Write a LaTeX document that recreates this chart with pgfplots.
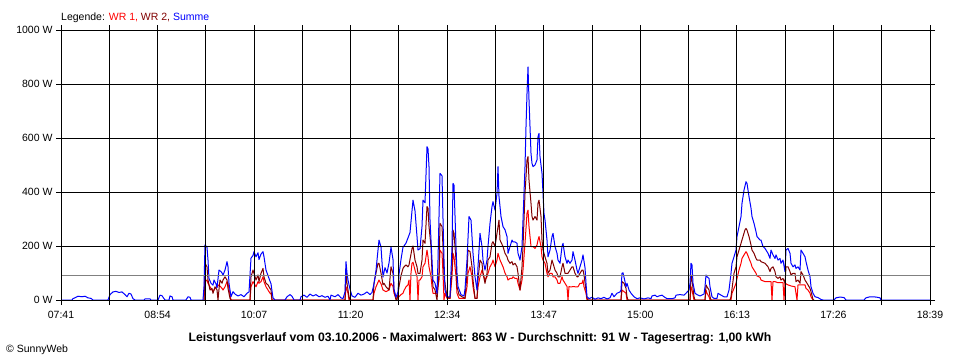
\documentclass[border=0pt]{standalone}
\usepackage{fontspec}
\setmainfont{Liberation Sans}
\usepackage{pgfplots}
\pgfplotsset{compat=1.18}
\definecolor{wrone}{RGB}{255,0,0}
\definecolor{wrtwo}{RGB}{128,0,0}
\definecolor{summe}{RGB}{0,0,255}
\definecolor{avgline}{RGB}{128,128,128}
\begin{document}
\begin{tikzpicture}[font=\fontsize{10.5}{12}\selectfont]
\useasboundingbox (0pt,0pt) rectangle (960pt,360pt);
\begin{axis}[
  at={(61pt,60pt)}, anchor=south west,
  scale only axis, width=869pt, height=270pt,
  xmin=61, xmax=930, ymin=0, ymax=1000,
  axis on top,
  axis line style={black, line width=1pt},
  grid=major, grid style={black, line width=1pt},
  tick style={black, line width=1pt},
  major tick length=5pt, tick align=outside,
  xtick={61,109.28,157.56,205.83,254.11,302.39,350.67,398.94,447.22,495.5,543.78,592.06,640.33,688.61,736.89,785.17,833.44,881.72,930},
  xticklabels={07:41,,08:54,,10:07,,11:20,,12:34,,13:47,,15:00,,16:13,,17:26,,18:39},
  ytick={0,200,400,600,800,1000},
  yticklabels={0 W,200 W,400 W,600 W,800 W,1000 W},
  tick label style={font=\fontsize{10.5}{12}\selectfont},
  xticklabel style={yshift=-2.5pt},
  every axis plot/.append style={line width=1pt, line join=round, mark=none},
]
% WR 1
\addplot[color=wrone] coordinates {
(204,0) (205,68) (207,74) (208,62) (210,49) (212,37) (213,31) (215,43) (217,49) (219,56) (222,43) (223,37) (225,49) (227,68) (228,62) (230,19) (231,0)
(250,0) (251,49) (253,68) (254,62) (256,49) (258,68) (259,62) (261,68) (263,86) (264,68) (266,49) (268,37) (270,25) (271,25) (272,0)
(345,0) (346,49) (347,37) (348,25) (349,0)
(373,0) (374,25) (376,49) (379,74) (381,60) (383,37) (386,31) (389,37) (391,62) (393,50) (394,25) (396,6) (399,12) (401,20) (403,25) (404,35) (406,49) (408,56) (409,74) (410,0) (411,100) (412,136) (413,140) (415,111) (417,86) (418,0) (419,74) (420,74) (422,86) (423,123) (425,136) (427,185) (428,160) (429,123) (431,86) (432,49) (433,25) (437,25) (439,74) (440,185) (442,173) (443,99) (444,0) (445,25) (447,6) (450,6) (452,86) (453,173) (454,160) (456,86) (457,25) (459,6) (465,6) (467,49) (468,99) (470,123) (472,86) (473,49) (475,6) (477,6) (478,49) (480,86) (482,111) (483,99) (485,74) (487,86) (488,99) (490,123) (492,136) (493,148) (495,123) (497,148) (498,173) (500,148) (503,123) (505,100) (507,86) (508,74) (510,80) (512,80) (513,86) (515,80) (517,80) (518,62) (520,37) (522,74) (523,111) (525,210) (527,321) (528,333) (529,272) (531,198) (532,198) (533,198) (535,191) (537,204) (538,222) (539,235) (541,198) (542,160) (543,148) (545,136) (547,99) (548,86) (550,99) (552,99) (553,86) (555,86) (557,74) (558,62) (560,62) (562,86) (563,74) (565,62) (567,50) (568,0) (569,50) (570,49) (572,49) (573,50) (575,49) (577,49) (578,49) (580,62) (582,62) (583,74) (584,49) (586,25) (587,0)
(621,0) (622,37) (624,31) (626,25) (627,0)
(690,0) (691,49) (692,37) (694,0)
(705,0) (706,37) (707,25) (709,12) (710,0)
(731,0) (732,25) (734,43) (736,62) (737,80) (739,111) (741,136) (742,154) (744,167) (746,179) (747,173) (749,154) (751,136) (752,123) (754,111) (756,99) (757,89) (760,84) (761,74) (765,68) (768,68) (771,68) (772,0) (773,68) (775,68) (778,64) (783,64) (784,0) (785,62) (788,56) (791,52) (795,49) (797,0) (798,56) (801,56) (805,56) (806,43) (808,37) (810,25) (811,12) (813,0)
};
% WR 2
\addplot[color=wrtwo] coordinates {
(204,0) (205,136) (207,123) (208,74) (210,37) (212,43) (213,25) (215,49) (217,37) (218,0) (219,40) (220,74) (222,62) (223,74) (225,86) (227,74) (228,43) (230,6) (231,0)
(250,0) (251,86) (253,111) (254,99) (256,74) (258,93) (259,68) (261,99) (263,117) (264,86) (266,62) (268,56) (269,49) (271,37) (272,0)
(345,0) (346,117) (347,62) (348,37) (349,12) (350,0)
(373,0) (374,62) (376,100) (378,136) (379,136) (381,100) (383,56) (384,62) (386,49) (389,37) (391,123) (393,99) (394,37) (396,0) (397,0) (399,49) (401,90) (403,117) (404,123) (406,130) (408,123) (409,130) (410,150) (412,190) (413,200) (415,148) (417,123) (418,99) (420,99) (422,148) (423,222) (425,210) (427,346) (428,340) (429,272) (431,198) (432,99) (433,49) (435,37) (437,0) (439,99) (440,284) (442,272) (443,198) (444,86) (447,12) (450,6) (452,123) (453,259) (454,247) (456,148) (457,49) (459,20) (462,12) (465,6) (467,99) (468,185) (470,179) (472,123) (473,74) (475,6) (477,6) (478,74) (480,148) (482,136) (483,99) (485,62) (487,99) (488,148) (490,160) (492,210) (493,216) (495,198) (497,247) (499,296) (500,222) (503,198) (505,173) (507,160) (508,148) (510,136) (512,142) (513,130) (515,136) (517,123) (518,99) (520,37) (522,123) (523,198) (525,395) (527,518) (528,531) (529,444) (531,358) (532,309) (533,296) (535,309) (537,296) (538,358) (539,370) (541,309) (542,222) (543,185) (545,160) (547,136) (548,99) (550,111) (552,148) (553,136) (555,111) (557,99) (558,86) (560,86) (562,123) (563,136) (565,99) (567,99) (568,99) (570,111) (572,123) (573,123) (575,99) (577,86) (578,86) (580,99) (582,111) (583,111) (584,93) (586,37) (587,6) (588,0)
(621,0) (622,68) (624,62) (626,43) (627,12) (628,0)
(690,0) (691,93) (692,74) (694,12) (695,0)
(705,0) (706,56) (707,49) (709,37) (710,12) (711,0)
(730,0) (731,12) (734,99) (736,123) (737,160) (739,185) (741,210) (743,235) (745,260) (746,265) (747,259) (749,235) (751,204) (752,185) (754,173) (756,154) (757,148) (760,148) (761,142) (765,136) (768,123) (770,105) (771,117) (773,123) (775,105) (776,86) (778,80) (780,86) (781,74) (783,80) (785,62) (786,123) (788,123) (790,105) (791,93) (793,99) (795,99) (796,68) (798,74) (800,62) (801,105) (803,93) (805,74) (806,68) (808,56) (810,43) (811,31) (813,2) (814,0)
};
% Summe
\addplot[color=summe] coordinates {
(61,0) (72,0) (73,5) (76,10) (78,14) (82,12) (85,14) (88,8) (91,6) (93,0)
(108,0) (110,20) (113,30) (116,32) (119,28) (122,30) (125,20) (127,12) (129,25) (131,22) (133,5) (135,0)
(144,0) (145,4) (150,4) (151,0)
(158,0) (160,18) (162,16) (164,5) (165,0)
(169,0) (170,15) (172,12) (173,0)
(186,0) (188,12) (190,10) (191,0)
(203,0) (204,50) (205,204) (207,195) (208,148) (209,80) (211,62) (213,55) (214,74) (216,60) (217,45) (219,111) (221,105) (222,100) (223,92) (225,111) (227,142) (228,123) (229,62) (231,12) (233,31) (235,22) (238,15) (241,20) (244,12) (247,25) (249,30)
(251,155) (253,165) (254,179) (256,160) (258,175) (259,150) (261,170) (263,179) (264,160) (266,111) (268,90) (269,80) (271,60) (273,8) (275,0)
(285,0) (287,12) (290,20) (292,14) (294,0)
(300,0) (301,12) (304,18) (307,10) (310,22) (313,15) (316,20) (319,12) (322,16) (325,10) (328,14) (330,0) (331,18) (335,12) (338,20) (341,8) (343,5) (345,30) (346,142) (347,100) (348,74) (350,40) (352,15) (355,10) (358,25) (361,18) (364,22) (367,30) (370,20) (372,28) (374,60) (376,110) (377,148) (379,222) (381,196) (383,85) (385,120) (387,100) (389,137) (391,196) (393,150) (394,40) (396,10) (398,30) (399,95) (401,150) (403,196) (404,200) (406,211) (408,230) (410,250) (412,330) (413,370) (415,330) (417,235) (418,185) (420,190) (422,272) (423,370) (425,360) (427,568) (428,560) (429,494) (430,296) (432,148) (433,74) (435,62) (437,25) (438,148) (440,469) (442,460) (443,300) (444,150) (445,37) (447,12) (450,12) (452,198) (453,432) (454,425) (456,200) (457,99) (458,50) (461,20) (464,15) (465,40) (467,148) (469,309) (471,296) (473,173) (475,86) (477,37) (478,123) (480,247) (482,198) (483,148) (485,111) (487,148) (488,198) (490,284) (492,346) (493,364) (495,333) (497,395) (498,494) (499,383) (501,309) (503,272) (505,260) (507,235) (508,173) (510,198) (512,222) (513,215) (515,215) (517,210) (518,173) (520,148) (522,198) (523,296) (525,494) (526,642) (527,765) (528,863) (529,741) (531,543) (532,506) (533,494) (535,500) (537,519) (538,605) (539,617) (540,531) (542,469) (543,395) (544,320) (545,296) (547,222) (548,160) (550,185) (552,235) (553,247) (555,198) (557,173) (558,148) (560,136) (562,198) (563,210) (565,160) (567,136) (568,148) (570,136) (572,148) (573,179) (575,148) (577,111) (578,99) (580,123) (582,148) (583,167) (585,120) (586,62) (587,12) (589,5) (592,10) (595,3) (598,8) (601,5) (604,10) (607,4) (610,8) (612,25) (614,12) (617,25) (620,30) (621,37) (622,99) (623,101) (625,68) (626,49) (627,62) (629,37) (631,25) (634,12) (637,5) (640,8) (644,4) (648,8) (651,5) (652,15) (655,18) (657,12) (659,15) (662,18) (664,12) (667,5) (672,5) (675,8) (676,18) (680,20) (684,18) (686,25) (689,37) (690,62) (691,136) (692,130) (693,62) (695,25) (697,20) (700,15) (704,22) (705,49) (706,93) (707,86) (709,80) (710,49) (712,12) (714,6) (717,6) (718,25) (721,18) (724,12) (727,12) (729,37) (731,99) (732,136) (734,160) (736,185) (737,235) (739,272) (741,309) (742,358) (744,407) (746,438) (747,432) (749,383) (751,340) (752,309) (754,284) (756,253) (757,235) (760,222) (761,222) (763,198) (765,191) (766,185) (768,173) (770,154) (771,185) (773,167) (775,154) (776,167) (778,148) (780,154) (781,136) (783,148) (785,105) (786,185) (788,191) (790,173) (791,136) (793,123) (795,130) (796,117) (798,123) (800,111) (801,185) (803,173) (805,160) (806,142) (808,111) (810,86) (811,49) (813,25) (815,12) (818,9) (821,2) (823,0)
(834,0) (836,8) (840,11) (844,9) (846,0)
(864,0) (866,8) (870,12) (876,11) (880,8) (881,0) (930,0)
};
% Durchschnitt
\addplot[color=avgline] coordinates {(61,91) (930,91)};
\end{axis}
\node[anchor=base west, inner sep=0pt] at (61pt,339.5pt) {Legende: \textcolor{wrone}{WR 1,} \textcolor{wrtwo}{WR 2,} \textcolor{summe}{Summe}};
\node[anchor=base, inner sep=0pt] at (480pt,19pt) {\fontsize{12.2}{14}\selectfont\bfseries Leistungsverlauf vom 03.10.2006 - Maximalwert: 863 W - Durchschnitt: 91 W - Tagesertrag: 1,00 kWh};
\node[anchor=base west, inner sep=0pt] at (6pt,8pt) {\fontsize{10.5}{12}\selectfont\textcopyright\ SunnyWeb};
\end{tikzpicture}
\end{document}
